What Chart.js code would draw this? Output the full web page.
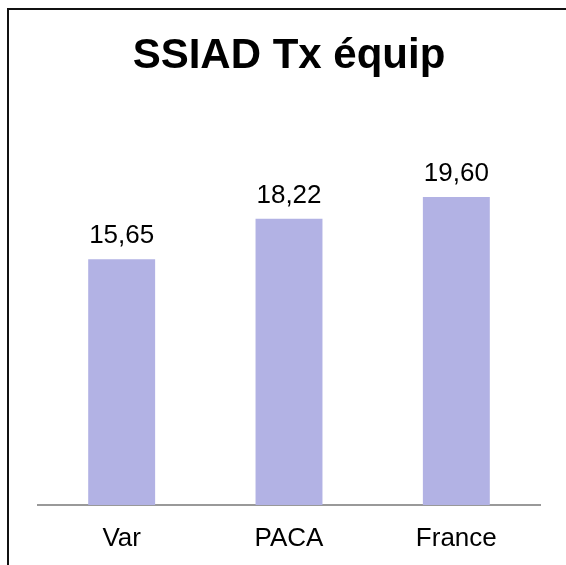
<!DOCTYPE html>
<html>
<head>
<meta charset="utf-8">
<script src="https://cdn.jsdelivr.net/npm/chart.js@4"></script>
<style>
  html, body { margin: 0; padding: 0; background: #fff; overflow: hidden; }
  #wrap { position: relative; width: 566px; height: 565px; }
  #frame { position: absolute; left: 7px; top: 8px; width: 600px; height: 600px; border: 2px solid #111; box-sizing: border-box; }
  canvas { position: absolute; left: 0; top: 0; }
</style>
</head>
<body>
<div id="wrap">
  <div id="frame"></div>
  <canvas id="chart" width="566" height="565"></canvas>
</div>
<script>
const titleText = "SSIAD Tx équip"
const categories = ["Var", "PACA", "France"]
const values = [15.65, 18.22, 19.60]

const fontFamily = "'Liberation Sans', Arial, sans-serif"

// Draws the value above each bar, French decimal comma
const valueLabels = {
  id: "valueLabels",
  afterDatasetsDraw(chart) {
    const ctx = chart.ctx
    const meta = chart.getDatasetMeta(0)
    ctx.save()
    ctx.fillStyle = "#000"
    ctx.font = "26px " + fontFamily
    ctx.textAlign = "center"
    ctx.textBaseline = "alphabetic"
    meta.data.forEach((bar, i) => {
      const text = values[i].toFixed(2).replace(".", ",")
      ctx.fillText(text, bar.x, bar.y - 16)
    })
    ctx.restore()
  },
}

new Chart(document.getElementById("chart"), {
  type: "bar",
  data: {
    labels: categories,
    datasets: [
      {
        data: values,
        backgroundColor: "#b2b2e4",
        borderWidth: 0,
        categoryPercentage: 1,
        barPercentage: 0.4,
      },
    ],
  },
  options: {
    responsive: false,
    animation: false,
    layout: { padding: { left: 38, right: 26, top: 0, bottom: 10 } },
    plugins: {
      legend: { display: false },
      tooltip: { enabled: false },
      title: {
        display: true,
        text: titleText,
        color: "#000",
        font: { family: fontFamily, size: 42, weight: "bold" },
        padding: { top: 31, bottom: 78 },
      },
    },
    scales: {
      x: {
        grid: { display: false, drawTicks: false },
        border: { display: true, color: "#999", width: 2 },
        ticks: {
          color: "#000",
          padding: 18,
          font: { family: fontFamily, size: 26 },
        },
        afterFit(scale) {
          scale.height = 50 // keep the axis line where the reference has it
        },
      },
      y: {
        display: false,
        min: 0,
        max: 22,
      },
    },
  },
  plugins: [valueLabels],
})
</script>
</body>
</html>
